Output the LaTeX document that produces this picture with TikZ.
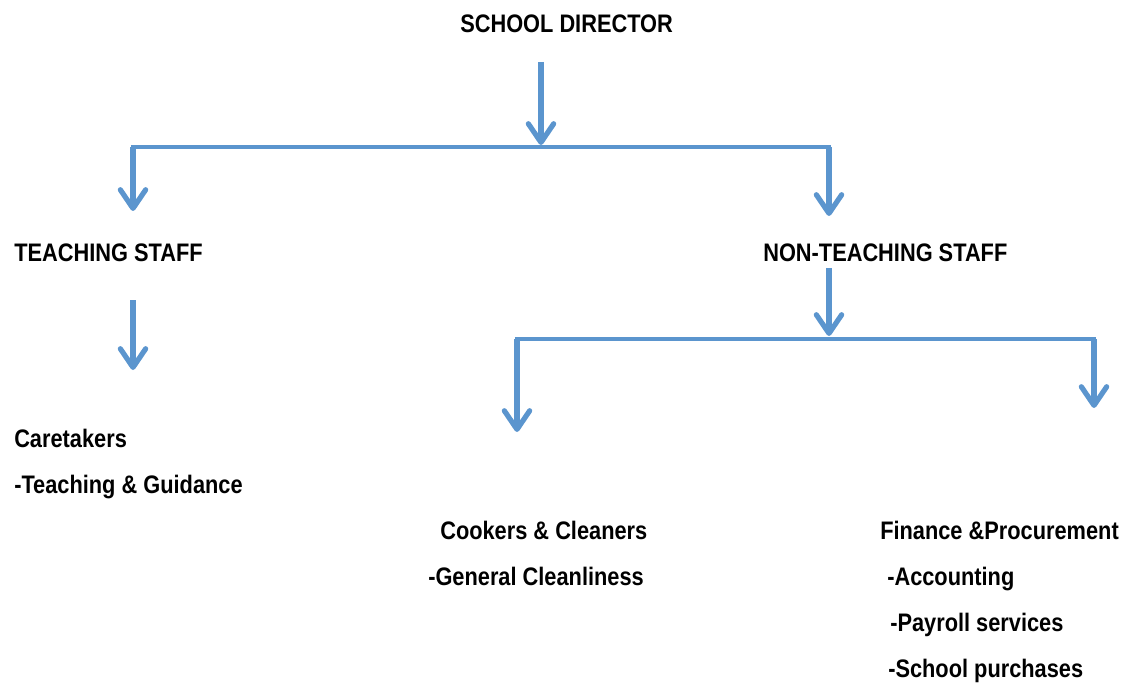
\documentclass[tikz,border=0pt]{standalone}
\usepackage{fontspec}
\setmainfont{Liberation Sans}[FakeStretch=0.86]
\usetikzlibrary{arrows.meta}
\definecolor{linkblue}{HTML}{5B95CE}
\begin{document}
\begin{tikzpicture}[x=0.75pt,y=-0.75pt,
  lbl/.style={anchor=base west,inner sep=0pt,font=\fontsize{19pt}{22pt}\selectfont\bfseries},
  link/.style={draw=linkblue,line width=3.3pt},
  arr/.style={draw=linkblue,line width=3.9pt,-{Straight Barb[length=14pt,width=19pt,line width=3.9pt,round]}}]
\useasboundingbox (0,0) rectangle (1127,684);
% texts
\node[lbl] (dir) at (460,33) {SCHOOL DIRECTOR};
\node[lbl] (teach) at (14,262) {TEACHING STAFF};
\node[lbl] (nonteach) at (763,262) {NON-TEACHING STAFF};
\node[lbl] (care) at (14,447) {Caretakers};
\node[lbl] (careA) at (14,493) {-Teaching \& Guidance};
\node[lbl] (cook) at (440,539) {Cookers \& Cleaners};
\node[lbl] (cookA) at (428,585) {-General Cleanliness};
\node[lbl] (fin) at (880,539) {Finance \&Procurement};
\node[lbl] (finA) at (887,585) {-Accounting};
\node[lbl] (finB) at (890,631) {-Payroll services};
\node[lbl] (finC) at (888,677) {-School purchases};
% coordinates
\coordinate (d0) at (541,62);
\coordinate (d1) at (541,145);
\coordinate (hL) at (133,147);
\coordinate (hR) at (829,147);
\coordinate (tL) at (133,211);
\coordinate (tR) at (829,216);
\coordinate (c0) at (133,300);
\coordinate (c1) at (133,370);
\coordinate (n0) at (829,268);
\coordinate (n1) at (829,336);
\coordinate (gL) at (517,339);
\coordinate (gR) at (1094,339);
\coordinate (kL) at (517,432);
\coordinate (kR) at (1094,408);
% connectors
\draw[arr] (d0) -- (d1);
\draw[link] ([xshift=-1.6pt]hL) -- ([xshift=1.6pt]hR);
\draw[arr] (hL) -- (tL);
\draw[arr] (hR) -- (tR);
\draw[arr] (c0) -- (c1);
\draw[arr] (n0) -- (n1);
\draw[link] ([xshift=-1.6pt]gL) -- ([xshift=1.6pt]gR);
\draw[arr] (gL) -- (kL);
\draw[arr] (gR) -- (kR);
\end{tikzpicture}
\end{document}
